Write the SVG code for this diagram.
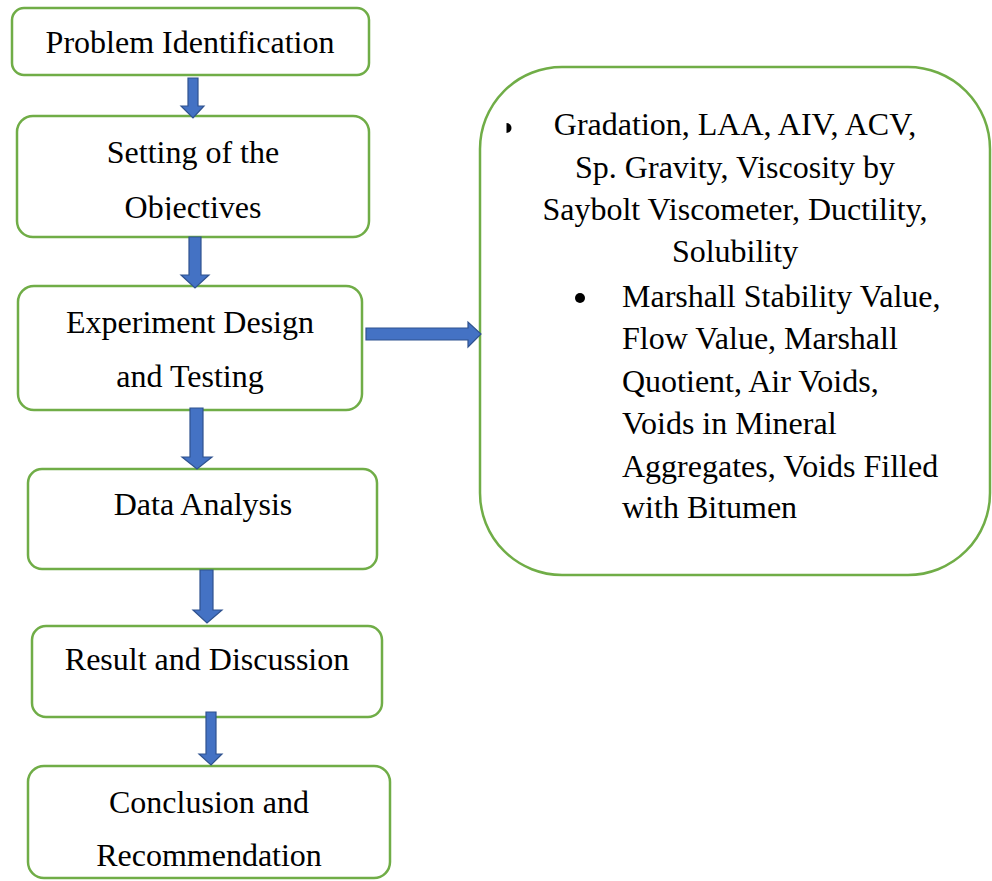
<svg xmlns="http://www.w3.org/2000/svg" width="992" height="881" viewBox="0 0 992 881">
<style>
.box{fill:#fff;stroke:#70AD47;stroke-width:2.5}
.t{font-family:"Liberation Serif","Times New Roman",serif;font-size:32px;fill:#000}
.c{text-anchor:middle}
.arr{fill:#4472C4;stroke:#2F528F;stroke-width:1.2}
</style>
<defs>
<clipPath id="clip2"><rect x="17" y="116" width="352" height="104"/></clipPath>
<clipPath id="clip6"><rect x="28" y="766" width="362" height="101"/></clipPath>
</defs>
<rect width="992" height="881" fill="#fff"/>
<g id="n1">
<rect class="box" x="12" y="8" width="357" height="67" rx="12"/>
<text class="t c" x="190" y="53">Problem Identification</text>
</g>
<g id="n2">
<rect class="box" x="17" y="116" width="352" height="121" rx="16"/>
<text class="t c" x="193" y="163">Setting of the</text>
<text class="t c" x="193" y="218" clip-path="url(#clip2)">Objectives</text>
</g>
<g id="n3">
<rect class="box" x="18" y="286" width="344" height="124" rx="16"/>
<text class="t c" x="190" y="333">Experiment Design</text>
<text class="t c" x="190" y="387">and Testing</text>
</g>
<g id="n4">
<rect class="box" x="28" y="469" width="349" height="100" rx="14"/>
<text class="t c" x="203" y="515">Data Analysis</text>
</g>
<g id="n5">
<rect class="box" x="32" y="626" width="350" height="91" rx="14"/>
<text class="t c" x="207" y="670">Result and Discussion</text>
</g>
<g id="n6">
<rect class="box" x="28" y="766" width="362" height="112" rx="16"/>
<text class="t c" x="209" y="813">Conclusion and</text>
<text class="t c" x="209" y="866" clip-path="url(#clip6)">Recommendation</text>
</g>
<g id="n7">
<rect class="box" x="480" y="67" width="510" height="508" rx="82"/>
<path d="M506.5,123 A5,5 0 0 1 506.5,133 Z" fill="#000" transform="translate(0,0)"/>
<text class="t c" x="735" y="135">Gradation, LAA, AIV, ACV,</text>
<text class="t c" x="735" y="178">Sp. Gravity, Viscosity by</text>
<text class="t c" x="735" y="220">Saybolt Viscometer, Ductility,</text>
<text class="t c" x="735" y="262">Solubility</text>
<circle cx="580" cy="298" r="5" fill="#000"/>
<text class="t" x="622" y="307">Marshall Stability Value,</text>
<text class="t" x="622" y="349">Flow Value, Marshall</text>
<text class="t" x="622" y="392">Quotient, Air Voids,</text>
<text class="t" x="622" y="434">Voids in Mineral</text>
<text class="t" x="622" y="477">Aggregates, Voids Filled</text>
<text class="t" x="622" y="518">with Bitumen</text>
</g>
<g id="connectors">
<path class="arr" d="M188,78 H198 V106 H204 L193,118 L181,106 H188 Z"/>
<path class="arr" d="M189,237 H201 V275 H209 L195,288 L181,275 H189 Z"/>
<path class="arr" d="M190,408 H203 V457 H212 L197,469 L182,457 H190 Z"/>
<path class="arr" d="M200,570 H213 V610 H222 L207,623 L193,610 H200 Z"/>
<path class="arr" d="M206,712 H216 V754 H222 L211,765 L199,754 H206 Z"/>
<path class="arr" d="M366,328 H468 V322 L481,334 L468,347 V340 H366 Z"/>
</g>
</svg>
